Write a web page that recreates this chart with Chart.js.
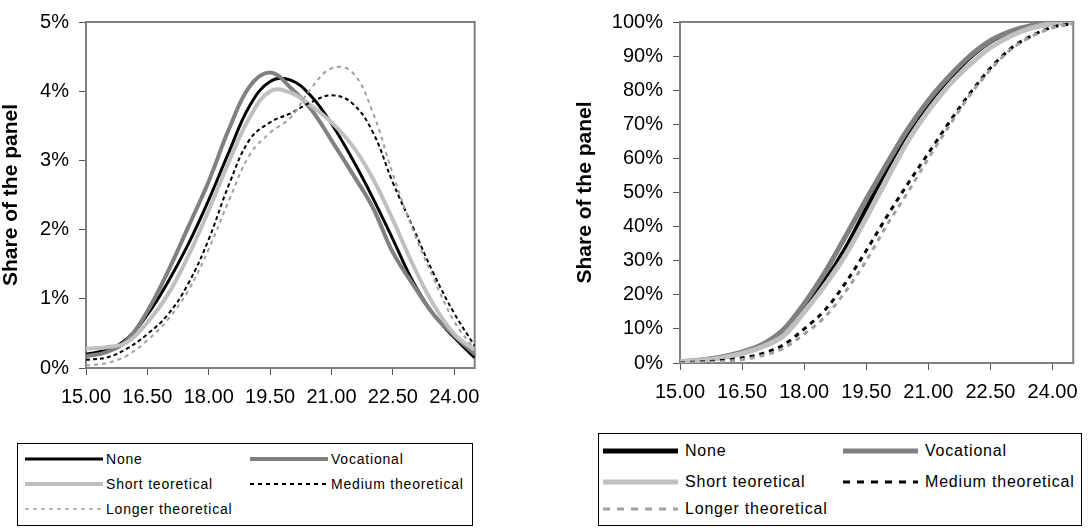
<!DOCTYPE html>
<html>
<head>
<meta charset="utf-8">
<script src="https://cdn.jsdelivr.net/npm/chart.js@4.4.1/dist/chart.umd.min.js"></script>
<style>
  body { margin: 0; width: 1088px; height: 528px; background: #fff; position: relative; overflow: hidden;
         font-family: "Liberation Sans", Arial, sans-serif; }
  .wrap { position: absolute; top: 0; }
  .legend { position: absolute; border: 1px solid #000; box-sizing: border-box; background: #fff; }
  .item { position: absolute; display: flex; align-items: center; white-space: nowrap; color: #000; }
  .item svg { display: block; }
</style>
</head>
<body>
<div class="wrap" style="left:0"><canvas id="pdfChart" width="490" height="420"></canvas></div>
<div class="wrap" style="left:540px"><canvas id="cdfChart" width="548" height="420"></canvas></div>
<div id="pdfLegend" class="legend" style="left:17px; top:443px; width:456px; height:83px"></div>
<div id="cdfLegend" class="legend" style="left:598px; top:433px; width:484px; height:93px"></div>

<script>
// x categories (age) and axis ticks
const X_VALUES = [15.0, 15.5, 16.0, 16.5, 17.0, 17.5, 18.0, 18.5, 19.0, 19.5,
                  20.0, 20.5, 21.0, 21.5, 22.0, 22.5, 23.0, 23.5, 24.0, 24.5];
const X_TICKS = [15, 16.5, 18, 19.5, 21, 22.5, 24];
const SERIES = ['None', 'Vocational', 'Short teoretical', 'Medium theoretical', 'Longer theoretical'];

// left panel: share of the panel (%)
const PDF_NONE   = [0.20, 0.26, 0.42, 0.77, 1.24, 1.79, 2.43, 3.13, 3.79, 4.14, 4.16, 3.93, 3.53, 3.03, 2.47, 1.86, 1.24, 0.77, 0.44, 0.15];
const PDF_VOC    = [0.17, 0.23, 0.40, 0.82, 1.39, 2.04, 2.70, 3.46, 4.07, 4.27, 4.05, 3.74, 3.29, 2.82, 2.33, 1.67, 1.20, 0.77, 0.47, 0.20];
const PDF_SHORT  = [0.28, 0.30, 0.37, 0.66, 1.06, 1.62, 2.28, 2.99, 3.62, 4.00, 3.98, 3.79, 3.55, 3.22, 2.75, 2.14, 1.48, 0.91, 0.49, 0.26];
const PDF_MEDIUM = [0.12, 0.15, 0.28, 0.49, 0.77, 1.22, 1.86, 2.66, 3.30, 3.55, 3.68, 3.84, 3.94, 3.83, 3.42, 2.68, 2.02, 1.36, 0.79, 0.32];
const PDF_LONGER = [0.04, 0.07, 0.18, 0.40, 0.70, 1.12, 1.72, 2.43, 3.08, 3.40, 3.62, 4.04, 4.33, 4.28, 3.71, 2.80, 1.98, 1.29, 0.67, 0.27];
const PDF_Y_TICKS = [0, 1, 2, 3, 4, 5];

// right panel: cumulative share (%)
const CDF_NONE   = [0.3, 0.8, 1.6, 3.0, 5.2, 8.8, 16.2, 24.2, 33.8, 45.3, 56.9, 67.4, 76.0, 83.2, 89.5, 94.2, 97.1, 98.8, 99.7, 100];
const CDF_VOC    = [0.3, 0.9, 1.8, 3.2, 5.5, 9.8, 17.4, 26.6, 37.2, 48.0, 58.5, 68.5, 77.0, 84.0, 90.0, 94.5, 97.3, 99.0, 99.8, 100];
const CDF_SHORT  = [0.4, 0.8, 1.5, 2.8, 4.8, 8.0, 14.9, 22.8, 31.7, 42.6, 53.9, 65.0, 74.0, 81.5, 87.5, 92.5, 96.0, 98.3, 99.5, 100];
const CDF_MEDIUM = [0.1, 0.3, 0.7, 1.5, 2.8, 5.3, 10.0, 15.5, 23.5, 33.0, 43.0, 52.5, 61.5, 70.5, 79.0, 86.5, 92.3, 96.0, 98.5, 99.6];
const CDF_LONGER = [0.0, 0.1, 0.4, 1.0, 2.2, 4.3, 8.5, 13.5, 21.0, 30.0, 40.5, 50.0, 60.0, 69.5, 78.5, 86.0, 92.0, 95.8, 98.3, 99.5];
const CDF_Y_TICKS = [0, 10, 20, 30, 40, 50, 60, 70, 80, 90, 100];

const FONT = '"Liberation Sans", Arial, sans-serif';

const PDF_STYLE = [
    { color: '#000000', width: 3, dash: [] },
    { color: '#808080', width: 4, dash: [] },
    { color: '#c0c0c0', width: 4, dash: [] },
    { color: '#000000', width: 2, dash: [4, 3] },
    { color: '#a0a0a0', width: 2, dash: [4, 4] },
];
const CDF_STYLE = [
    { color: '#000000', width: 4, dash: [] },
    { color: '#808080', width: 5, dash: [] },
    { color: '#c0c0c0', width: 5, dash: [] },
    { color: '#000000', width: 3, dash: [5, 5] },
    { color: '#a0a0a0', width: 3, dash: [5, 5] },
];

const plotBorder = {
    id: 'plotBorder',
    beforeDatasetsDraw(chart) {
        const { ctx, chartArea: a } = chart;
        ctx.save();
        ctx.strokeStyle = '#808080';
        ctx.lineWidth = 2;
        ctx.strokeRect(a.left, a.top, a.right - a.left, a.bottom - a.top);
        ctx.restore();
    }
};

function makeChart(el, seriesValues, styles, yTicks, o) {
    return new Chart(el, {
        type: 'line',
        data: {
            datasets: seriesValues.map((vals, i) => ({
                label: SERIES[i],
                data: X_VALUES.map((x, j) => ({ x: x, y: vals[j] })),
                borderColor: styles[i].color,
                borderWidth: styles[i].width,
                borderDash: styles[i].dash,
                pointRadius: 0,
                fill: false,
                order: seriesValues.length - i,
                tension: o.tension,
                cubicInterpolationMode: o.mode,
            }))
        },
        options: {
            responsive: false,
            animation: false,
            layout: { padding: o.padding },
            plugins: { legend: { display: false }, tooltip: { enabled: false } },
            scales: {
                x: {
                    type: 'linear',
                    min: 15,
                    max: 24.5,
                    afterBuildTicks: s => { s.ticks = X_TICKS.map(v => ({ value: v })); },
                    afterFit: s => { s.height = o.xHeight; },
                    ticks: {
                        callback: v => Number(v).toFixed(2),
                        font: { family: FONT, size: 20 },
                        color: '#000',
                        padding: 10,
                        maxRotation: 0,
                        autoSkip: false,
                    },
                    grid: { drawOnChartArea: false, tickLength: 7, color: '#555', lineWidth: 1 },
                    border: { color: '#808080', width: 2 },
                },
                y: {
                    min: yTicks[0],
                    max: yTicks[yTicks.length - 1],
                    afterBuildTicks: s => { s.ticks = yTicks.map(v => ({ value: v })); },
                    afterFit: s => { s.width = o.yWidth; },
                    ticks: {
                        callback: v => v + '%',
                        font: { family: FONT, size: 20 },
                        color: '#000',
                        padding: 10,
                    },
                    grid: { drawOnChartArea: false, tickLength: 7, color: '#555', lineWidth: 1 },
                    border: { color: '#808080', width: 2 },
                    title: {
                        display: true,
                        text: 'Share of the panel',
                        font: { family: FONT, size: 21, weight: 'bold' },
                        color: '#000',
                        padding: { top: o.titlePad, bottom: 0 },
                    },
                },
            },
        },
        plugins: [plotBorder],
    });
}

makeChart(document.getElementById('pdfChart'),
    [PDF_NONE, PDF_VOC, PDF_SHORT, PDF_MEDIUM, PDF_LONGER], PDF_STYLE, PDF_Y_TICKS,
    { padding: { top: 14, right: 14, left: 0, bottom: 0 }, xHeight: 52, yWidth: 86, titlePad: -1, tension: 0.4, mode: 'default' });

makeChart(document.getElementById('cdfChart'),
    [CDF_NONE, CDF_VOC, CDF_SHORT, CDF_MEDIUM, CDF_LONGER], CDF_STYLE, CDF_Y_TICKS,
    { padding: { top: 15, right: 8, left: 0, bottom: 0 }, xHeight: 57, yWidth: 140, titlePad: 33, tension: 0.4, mode: 'monotone' });

// legends below each panel (two columns, three rows)
function buildLegend(box, styles, L) {
    SERIES.forEach((name, i) => {
        const col = i % 2, row = Math.floor(i / 2);
        const s = styles[i];
        const item = document.createElement('div');
        item.className = 'item';
        item.style.left = L.lineX[col] + 'px';
        item.style.top = (L.rowY[row] - 12) + 'px';
        item.style.height = '24px';
        item.style.fontSize = L.fontSize + 'px';
        item.style.letterSpacing = L.spacing + 'px';
        const w = L.lineW;
        item.innerHTML =
            '<svg width="' + w + '" height="24"><line x1="0" y1="12" x2="' + w + '" y2="12" stroke="' + s.color +
            '" stroke-width="' + L.strokes[i] + '" stroke-dasharray="' + L.dashes[i].join(' ') + '"/></svg>' +
            '<span style="margin-left:' + L.gap + 'px">' + name + '</span>';
        box.appendChild(item);
    });
}

buildLegend(document.getElementById('pdfLegend'), PDF_STYLE, {
    lineX: [7, 232], rowY: [15, 40, 65], lineW: 78, gap: 3, fontSize: 14, spacing: 0.8,
    strokes: [3, 4, 4, 2, 1.5], dashes: [[], [], [], [4, 4], [4, 4]]
});
buildLegend(document.getElementById('cdfLegend'), CDF_STYLE, {
    lineX: [4, 244], rowY: [17, 48, 75], lineW: 75, gap: 7, fontSize: 16, spacing: 0.8,
    strokes: [5, 5, 5, 3, 3], dashes: [[], [], [], [7, 7], [7, 7]]
});
</script>
</body>
</html>
